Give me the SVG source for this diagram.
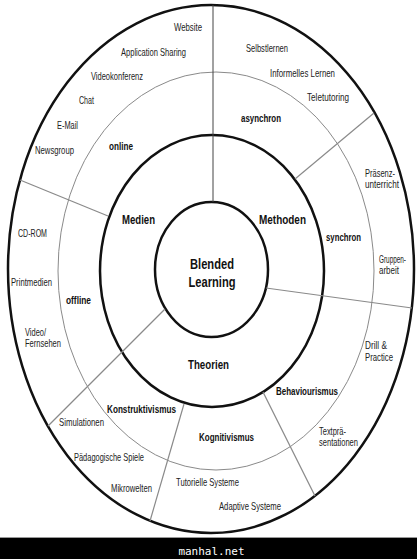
<svg xmlns="http://www.w3.org/2000/svg" width="417" height="559" viewBox="0 0 417 559">
<style>
.ring{fill:none;stroke:#111;stroke-width:2.5}
.thin{fill:none;stroke:#8a8a8a;stroke-width:1}
.div{stroke:#8a8a8a;stroke-width:1.2;fill:none}
.vl{stroke:#444;stroke-width:1;fill:none}
text{font-family:"Liberation Sans",Arial,sans-serif;fill:#222;transform:scaleY(1.3);transform-box:fill-box;transform-origin:center}
.t{font-size:8px}
.b{font-size:8px;font-weight:bold;fill:#111}
.h{font-size:10px;font-weight:bold;fill:#111}
.c{font-size:11px;font-weight:bold;fill:#111}
.m{text-anchor:middle}
.w{font-family:"DejaVu Sans Mono","Liberation Mono",monospace;font-size:11px;fill:#fff;text-anchor:middle;transform:none}
</style>
<rect width="417" height="559" fill="#fff"/>
<g id="rings">
<ellipse class="ring" cx="211" cy="269" rx="203" ry="264"/>
<ellipse class="thin" cx="216" cy="271" rx="158" ry="199"/>
<ellipse class="ring" cx="212" cy="271" rx="112" ry="136"/>
<ellipse class="ring" cx="211.5" cy="269.5" rx="56.5" ry="67.5"/>
</g>
<g id="connectors">
<line class="vl" x1="213" y1="5" x2="213" y2="202"/>
<line class="div" x1="20" y1="180" x2="108" y2="216"/>
<line class="div" x1="374" y1="113" x2="295" y2="179"/>
<line class="div" x1="266" y1="288" x2="412" y2="308"/>
<line class="div" x1="165" y1="309" x2="48" y2="426"/>
<line class="div" x1="184" y1="404" x2="150" y2="521"/>
<line class="div" x1="263" y1="392" x2="315" y2="496"/>
</g>
<g id="blended-learning"><text class="c m" x="212" y="268" textLength="44" lengthAdjust="spacingAndGlyphs">Blended</text><text class="c m" x="212" y="286" textLength="47" lengthAdjust="spacingAndGlyphs">Learning</text></g>
<g id="medien"><text class="h m" x="138.5" y="222.5" textLength="33" lengthAdjust="spacingAndGlyphs">Medien</text></g>
<g id="methoden"><text class="h m" x="282.5" y="222.5" textLength="47" lengthAdjust="spacingAndGlyphs">Methoden</text></g>
<g id="theorien"><text class="h m" x="208.5" y="367.5" textLength="41" lengthAdjust="spacingAndGlyphs">Theorien</text></g>
<g id="online"><text class="b m" x="121" y="149" textLength="24" lengthAdjust="spacingAndGlyphs">online</text></g>
<g id="offline"><text class="b m" x="78.5" y="303" textLength="25" lengthAdjust="spacingAndGlyphs">offline</text></g>
<g id="asynchron"><text class="b m" x="261" y="121" textLength="40" lengthAdjust="spacingAndGlyphs">asynchron</text></g>
<g id="synchron"><text class="b m" x="343.5" y="240" textLength="35" lengthAdjust="spacingAndGlyphs">synchron</text></g>
<g id="konstruktivismus"><text class="b m" x="141.5" y="412" textLength="69" lengthAdjust="spacingAndGlyphs">Konstruktivismus</text></g>
<g id="kognitivismus"><text class="b m" x="226.5" y="440" textLength="55" lengthAdjust="spacingAndGlyphs">Kognitivismus</text></g>
<g id="behaviourismus"><text class="b m" x="307" y="394" textLength="62" lengthAdjust="spacingAndGlyphs">Behaviourismus</text></g>
<g id="website"><text class="t m" x="188" y="30" textLength="28" lengthAdjust="spacingAndGlyphs">Website</text></g>
<g id="application-sharing"><text class="t m" x="153.5" y="55" textLength="65" lengthAdjust="spacingAndGlyphs">Application Sharing</text></g>
<g id="videokonferenz"><text class="t m" x="117" y="79" textLength="52" lengthAdjust="spacingAndGlyphs">Videokonferenz</text></g>
<g id="chat"><text class="t m" x="86.5" y="103" textLength="15" lengthAdjust="spacingAndGlyphs">Chat</text></g>
<g id="email"><text class="t m" x="67.5" y="128" textLength="21" lengthAdjust="spacingAndGlyphs">E-Mail</text></g>
<g id="newsgroup"><text class="t m" x="54.5" y="153" textLength="39" lengthAdjust="spacingAndGlyphs">Newsgroup</text></g>
<g id="selbstlernen"><text class="t m" x="267" y="51" textLength="42" lengthAdjust="spacingAndGlyphs">Selbstlernen</text></g>
<g id="informelles-lernen"><text class="t m" x="302.5" y="76" textLength="65" lengthAdjust="spacingAndGlyphs">Informelles Lernen</text></g>
<g id="teletutoring"><text class="t m" x="328" y="100" textLength="42" lengthAdjust="spacingAndGlyphs">Teletutoring</text></g>
<g id="praesenzunterricht"><text class="t" x="365" y="176" textLength="30" lengthAdjust="spacingAndGlyphs">Präsenz-</text><text class="t" x="365" y="187" textLength="34" lengthAdjust="spacingAndGlyphs">unterricht</text></g>
<g id="gruppenarbeit"><text class="t" x="379" y="262" textLength="27" lengthAdjust="spacingAndGlyphs">Gruppen-</text><text class="t" x="379" y="273" textLength="20" lengthAdjust="spacingAndGlyphs">arbeit</text></g>
<g id="drill-practice"><text class="t" x="365" y="348" textLength="22" lengthAdjust="spacingAndGlyphs">Drill &amp;</text><text class="t" x="365" y="360" textLength="28" lengthAdjust="spacingAndGlyphs">Practice</text></g>
<g id="cdrom"><text class="t m" x="32.5" y="236" textLength="29" lengthAdjust="spacingAndGlyphs">CD-ROM</text></g>
<g id="printmedien"><text class="t m" x="31.5" y="285" textLength="41" lengthAdjust="spacingAndGlyphs">Printmedien</text></g>
<g id="video-fernsehen"><text class="t" x="25" y="335" textLength="21" lengthAdjust="spacingAndGlyphs">Video/</text><text class="t" x="25" y="346" textLength="36" lengthAdjust="spacingAndGlyphs">Fernsehen</text></g>
<g id="simulationen"><text class="t m" x="81.5" y="425" textLength="45" lengthAdjust="spacingAndGlyphs">Simulationen</text></g>
<g id="paedagogische-spiele"><text class="t m" x="109" y="460" textLength="70" lengthAdjust="spacingAndGlyphs">Pädagogische Spiele</text></g>
<g id="mikrowelten"><text class="t m" x="131.5" y="491" textLength="41" lengthAdjust="spacingAndGlyphs">Mikrowelten</text></g>
<g id="tutorielle-systeme"><text class="t m" x="207.5" y="485" textLength="63" lengthAdjust="spacingAndGlyphs">Tutorielle Systeme</text></g>
<g id="adaptive-systeme"><text class="t m" x="250" y="509" textLength="62" lengthAdjust="spacingAndGlyphs">Adaptive Systeme</text></g>
<g id="textpraesentationen"><text class="t" x="319" y="434" textLength="27" lengthAdjust="spacingAndGlyphs">Textprä-</text><text class="t" x="319" y="445" textLength="39" lengthAdjust="spacingAndGlyphs">sentationen</text></g>
<g id="footer"><rect x="0" y="537" width="417" height="1" fill="#999"/><rect x="0" y="538" width="417" height="21" fill="#000"/><text class="w" x="211.5" y="555">manhal.net</text></g>
</svg>
